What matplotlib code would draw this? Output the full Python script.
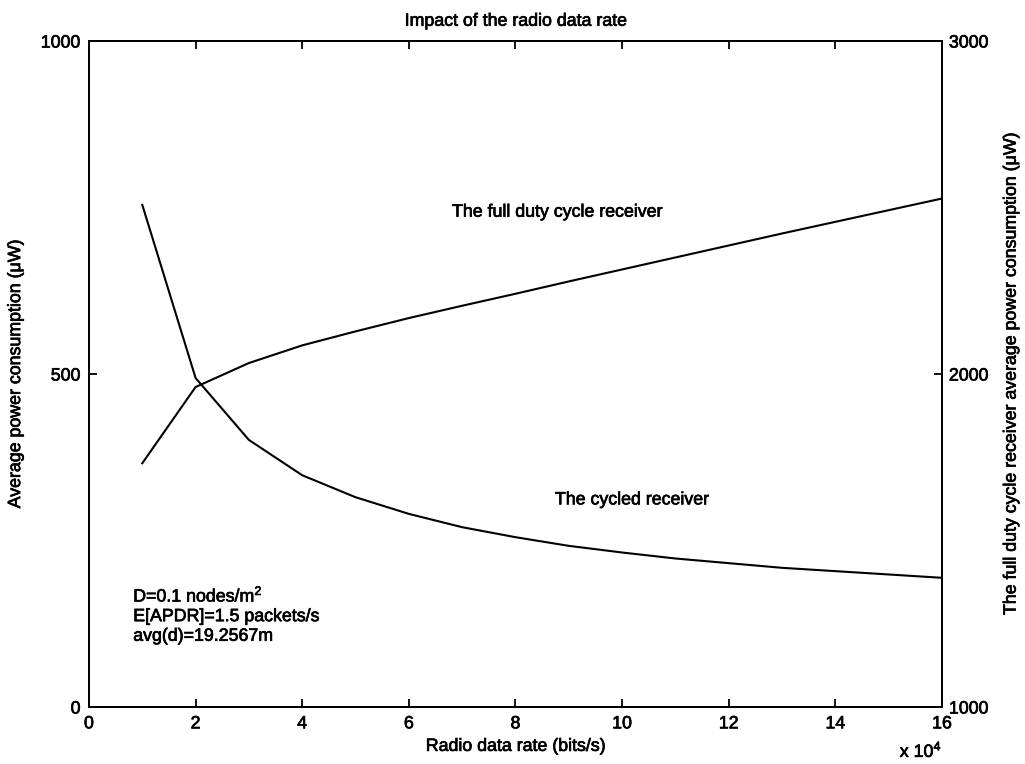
import matplotlib
matplotlib.use('Agg')
import matplotlib.pyplot as plt
import matplotlib.patheffects as pe

plt.rcParams['font.family'] = ['Liberation Sans', 'DejaVu Sans']
plt.rcParams['mathtext.fontset'] = 'custom'
plt.rcParams['mathtext.rm'] = 'Liberation Sans'
plt.rcParams['mathtext.it'] = 'Liberation Sans'

# radio data rate, in units of 10^4 bits/s
rate = [1, 2, 3, 4, 5, 6, 7, 8, 9, 10, 11, 12, 13, 14, 15, 16]
# cycled receiver, left axis (uW)
cycled = [754, 494, 401, 348, 315, 290, 270, 255, 242, 232, 223, 216, 209, 204, 199, 194]
# full duty cycle receiver, right axis (uW)
full_duty = [1732, 1961, 2033, 2086, 2128, 2168, 2205, 2241, 2278, 2314, 2350, 2386,
             2422, 2457, 2492, 2527]

x_ticks = [0, 2, 4, 6, 8, 10, 12, 14, 16]
left_ticks = [0, 500, 1000]
right_ticks = [1000, 2000, 3000]

fs = 12.8
# slightly heavier glyphs, like a printed page
heavy = [pe.withStroke(linewidth=0.5, foreground='black')]

fig = plt.figure(figsize=(10.25, 7.64), dpi=100)
ax = fig.add_axes([0.0868, 0.0746, 0.8322, 0.8717])
ax2 = ax.twinx()

ax.plot(rate, cycled, color='black', lw=1.5)
ax2.plot(rate, full_duty, color='black', lw=1.5)

ax.set_xlim(0, 16)
ax.set_ylim(0, 1000)
ax2.set_ylim(1000, 3000)
ax.set_xticks(x_ticks)
ax.set_yticks(left_ticks)
ax2.set_yticks(right_ticks)

ax.tick_params(axis='x', direction='in', length=6, width=1.3, top=True,
               labelsize=fs, pad=6)
ax.tick_params(axis='y', direction='in', length=6, width=1.3, right=False,
               labelsize=fs, pad=6)
ax2.tick_params(axis='y', direction='in', length=6, width=1.3, labelsize=fs, pad=5)
for a in (ax, ax2):
    for s in a.spines.values():
        s.set_linewidth(1.4)

texts = []
texts.append(ax.set_title('Impact of the radio data rate', fontsize=fs, pad=11))
texts.append(ax.set_xlabel('Radio data rate (bits/s)', fontsize=fs, labelpad=4))
texts.append(ax.set_ylabel('Average power consumption (\u03bcW)', fontsize=fs,
                           labelpad=12))
texts.append(ax2.set_ylabel(
    'The full duty cycle receiver average power consumption (\u03bcW)',
    fontsize=fs, labelpad=10))

texts.append(ax.text(1.0, -0.066, r'x 10$^4$', transform=ax.transAxes, ha='right',
                     va='center', fontsize=fs))
texts.append(ax.text(6.81, 743, 'The full duty cycle receiver', fontsize=fs,
                     va='center'))
texts.append(ax.text(8.74, 311, 'The cycled receiver', fontsize=fs, va='center'))
texts.append(ax.text(0.83, 138,
                     'D=0.1 nodes/m$^2$\nE[APDR]=1.5 packets/s\navg(d)=19.2567m',
                     fontsize=fs, va='center', linespacing=1.2))

texts += ax.get_xticklabels() + ax.get_yticklabels() + ax2.get_yticklabels()
for t in texts:
    t.set_path_effects(heavy)

fig.savefig('out.png', dpi=100)
